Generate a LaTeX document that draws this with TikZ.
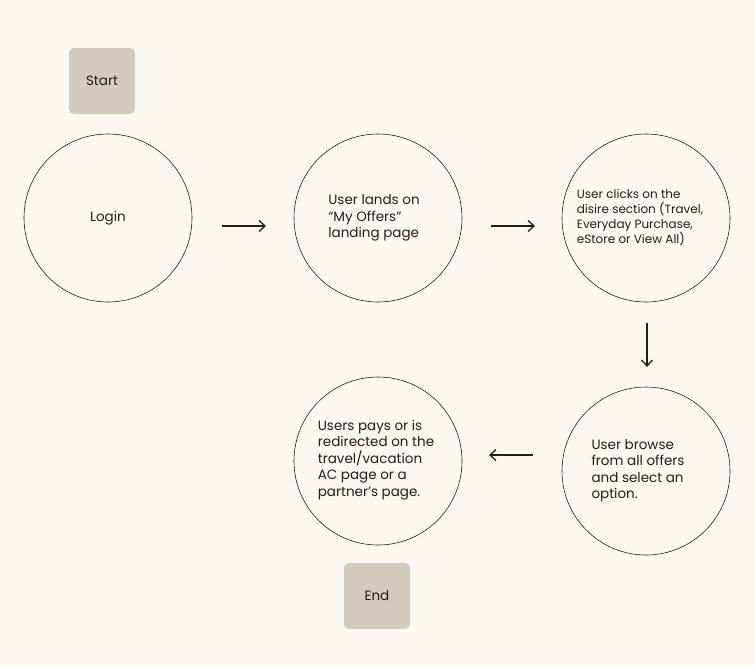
\documentclass[tikz,border=0pt]{standalone}
\usepackage{fontspec}
\setmainfont{Poppins}
\usetikzlibrary{arrows.meta}
\definecolor{bg}{HTML}{FDF9F2}
\definecolor{boxc}{HTML}{D3CBBC}
\definecolor{ink}{HTML}{2A1A1A}
\begin{document}
\begin{tikzpicture}[x=1pt,y=-1pt,
  circ/.style={draw=ink,line width=0.6pt,circle,minimum size=168pt,inner sep=0pt},
  tag/.style={fill=boxc,rounded corners=5pt,minimum size=66pt,inner sep=0pt,font=\fontsize{13.5}{16}\selectfont,text=ink},
  txt/.style={align=left,font=\fontsize{13.5}{16.5}\selectfont,text=ink},
  arr/.style={-{Straight Barb[length=6pt,width=11pt]},line width=1.3pt,draw=ink}]
\fill[bg] (0,0) rectangle (755,667);
\useasboundingbox (0,0) rectangle (755,667);
\node[tag] (start) at (102,81) {Start};
\node[tag] (end) at (377,596) {End};
\node[circ] (c1) at (108,218) {};
\node[txt] at (108,218) {Login};
\node[circ] (c2) at (378,218) {};
\node[txt] at (374,218) {User lands on\\``My Offers''\\landing page};
\node[circ] (c3) at (646,218) {};
\node[txt,font=\fontsize{12}{15}\selectfont] at (640,218) {User clicks on the\\disire section (Travel,\\Everyday Purchase,\\eStore or View All)};
\node[circ] (c4) at (646,471) {};
\node[txt] at (638,471) {User browse\\from all offers\\and select an\\option.};
\node[circ] (c5) at (378,461) {};
\node[txt] at (376,460) {Users pays or is\\redirected on the\\travel/vacation\\AC page or a\\partner's page.};
\coordinate (a1s) at (222,226); \coordinate (a1e) at (266,226);
\coordinate (a2s) at (491,226); \coordinate (a2e) at (535,226);
\coordinate (a3s) at (647,323); \coordinate (a3e) at (647,367);
\coordinate (a4s) at (533,455); \coordinate (a4e) at (489,455);
\draw[arr] (a1s) -- (a1e);
\draw[arr] (a2s) -- (a2e);
\draw[arr] (a3s) -- (a3e);
\draw[arr] (a4s) -- (a4e);
\end{tikzpicture}
\end{document}
